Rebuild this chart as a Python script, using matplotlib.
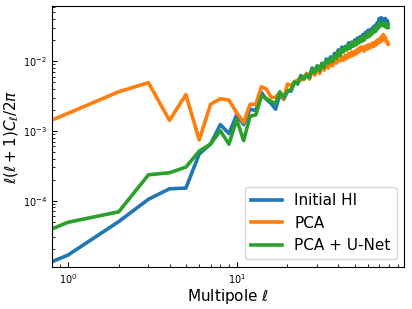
import numpy as np
import matplotlib
matplotlib.use("Agg")
import matplotlib.pyplot as plt

# multipoles 0..79 ; the l=0 entry is zero for every map
ell = np.arange(0, 80)

# log10 of l(l+1)C_l/2pi for l = 1..79
log_initial = [-4.78, -4.30, -3.98, -3.83, -3.82, -3.33, -3.19, -2.91, -3.04, -2.77,
               -2.91, -2.69, -2.71, -2.45, -2.55, -2.61, -2.69, -2.48, -2.55, -2.43,
               -2.43, -2.30, -2.31, -2.21, -2.24, -2.18, -2.23, -2.10, -2.16, -2.07,
               -2.13, -2.03, -2.07, -1.97, -2.01, -1.94, -2.00, -1.89, -1.94, -1.84,
               -1.90, -1.80, -1.86, -1.79, -1.83, -1.74, -1.80, -1.73, -1.77, -1.70,
               -1.74, -1.67, -1.73, -1.65, -1.69, -1.62, -1.67, -1.59, -1.63, -1.56,
               -1.62, -1.55, -1.57, -1.52, -1.56, -1.49, -1.53, -1.45, -1.49, -1.39,
               -1.45, -1.38, -1.43, -1.40, -1.45, -1.39, -1.46, -1.42, -1.47]
log_pca = [-2.75, -2.44, -2.31, -2.85, -2.48, -3.13, -2.62, -2.54, -2.56, -2.74,
           -2.88, -2.62, -2.62, -2.37, -2.40, -2.52, -2.52, -2.45, -2.54, -2.33,
           -2.35, -2.30, -2.27, -2.27, -2.26, -2.18, -2.26, -2.14, -2.20, -2.11,
           -2.18, -2.07, -2.13, -2.04, -2.10, -2.01, -2.07, -1.99, -2.03, -1.96,
           -2.00, -1.94, -1.99, -1.92, -1.96, -1.89, -1.94, -1.87, -1.92, -1.86,
           -1.90, -1.83, -1.87, -1.80, -1.84, -1.80, -1.86, -1.79, -1.83, -1.77,
           -1.82, -1.76, -1.80, -1.74, -1.79, -1.73, -1.77, -1.70, -1.74, -1.69,
           -1.73, -1.65, -1.70, -1.62, -1.70, -1.66, -1.73, -1.72, -1.76]
log_unet = [-4.31, -4.16, -3.63, -3.60, -3.52, -3.29, -3.19, -3.00, -3.19, -2.84,
            -3.14, -2.79, -2.77, -2.50, -2.54, -2.58, -2.61, -2.44, -2.52, -2.43,
            -2.41, -2.30, -2.33, -2.21, -2.26, -2.20, -2.24, -2.11, -2.17, -2.07,
            -2.14, -2.04, -2.09, -1.99, -2.03, -1.96, -2.01, -1.92, -1.96, -1.86,
            -1.92, -1.83, -1.87, -1.80, -1.84, -1.77, -1.82, -1.74, -1.79, -1.73,
            -1.77, -1.70, -1.74, -1.67, -1.72, -1.66, -1.70, -1.63, -1.66, -1.60,
            -1.65, -1.59, -1.62, -1.56, -1.59, -1.53, -1.57, -1.50, -1.53, -1.46,
            -1.50, -1.45, -1.49, -1.46, -1.50, -1.46, -1.52, -1.47, -1.52]

labels = ["Initial HI", "PCA", "PCA + U-Net"]
colors = ["#1f77b4", "#ff7f0e", "#2ca02c"]


def spectrum(logs):
    # prepend the zero l=0 term
    return np.concatenate([[0.0], 10.0 ** np.array(logs)])


fig = plt.figure(figsize=(4.12, 3.09), dpi=100)
ax = fig.add_subplot(111)
fig.subplots_adjust(left=0.126, right=0.981, top=0.981, bottom=0.136)

for logs, lab, col in zip([log_initial, log_pca, log_unet], labels, colors):
    ax.plot(ell, spectrum(logs), color=col, lw=2.6, label=lab)

ax.set_xscale("log")
ax.set_yscale("log")
ax.tick_params(which="both", direction="in", labelsize=7)
ax.set_xlabel(r"Multipole $\ell$", fontsize=11, labelpad=1)
ax.set_ylabel(r"$\ell(\ell+1)C_\ell/2\pi$", fontsize=11, labelpad=1)
ax.legend(loc="lower right", fontsize=11)

fig.savefig("out.png", dpi=100)
